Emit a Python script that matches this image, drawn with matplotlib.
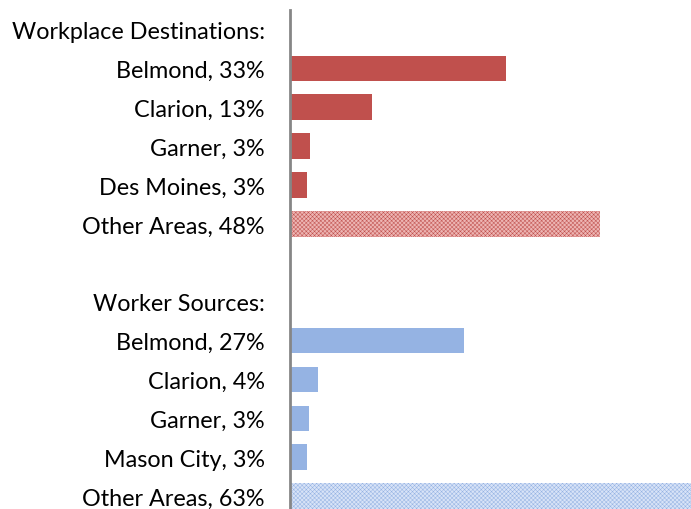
import matplotlib

matplotlib.use("Agg")
import matplotlib.pyplot as plt

# rows top to bottom; empty string = spacer row, headers have no bar
labels = [
    "Workplace Destinations:",
    "Belmond, 33%",
    "Clarion, 13%",
    "Garner, 3%",
    "Des Moines, 3%",
    "Other Areas, 48%",
    "",
    "Worker Sources:",
    "Belmond, 27%",
    "Clarion, 4%",
    "Garner, 3%",
    "Mason City, 3%",
    "Other Areas, 63%",
]
dest_values = [33.2, 12.6, 3.1, 2.6, 47.7]
source_values = [26.8, 4.3, 2.9, 2.6, 63.0]

RED = "#C0504D"
BLUE = "#95B3E3"

plt.rcParams["hatch.linewidth"] = 0.35

fig = plt.figure(figsize=(6.91, 5.10), dpi=100)
ax = fig.add_axes([290 / 691, 0, 1 - 290 / 691, 1 - 11 / 510])

dest_rows = list(range(1, 6))
src_rows = list(range(8, 13))

h = 0.66
ax.barh(dest_rows[:-1], dest_values[:-1], height=h, color=RED)
ax.barh(dest_rows[-1:], dest_values[-1:], height=h, color="#EDB5B3",
        hatch="xxxxxxxx", edgecolor=RED, linewidth=0)
ax.barh(src_rows[:-1], source_values[:-1], height=h, color=BLUE)
ax.barh(src_rows[-1:], source_values[-1:], height=h, color="#D8E3F7",
        hatch="xxxxxxxx", edgecolor=BLUE, linewidth=0)

ax.set_xlim(0, (691 - 290) / 6.5)
ax.set_ylim(12.33, -0.5)
ax.set_yticks(range(len(labels)))
ax.set_yticklabels(labels, fontsize=16.8, family="Lato")
ax.tick_params(axis="y", length=0, pad=18)
ax.set_xticks([])

for s in ["top", "right", "bottom"]:
    ax.spines[s].set_visible(False)
ax.spines["left"].set_color("#868686")
ax.spines["left"].set_linewidth(2)

fig.savefig("out.png", dpi=100)
